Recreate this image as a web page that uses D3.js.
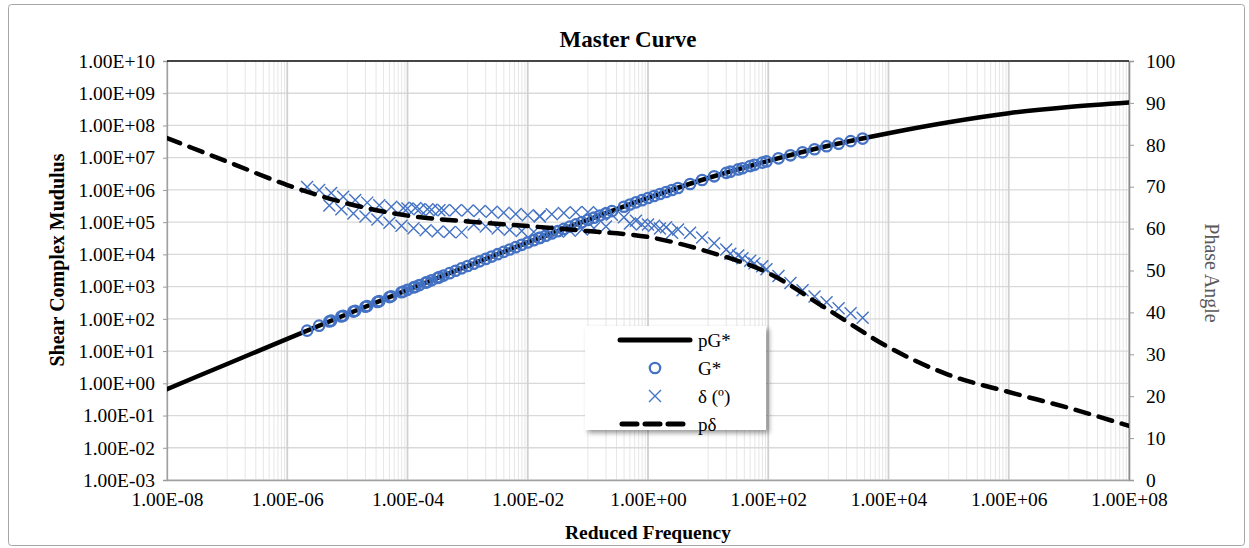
<!DOCTYPE html>
<html>
<head>
<meta charset="utf-8">
<script src="https://cdn.jsdelivr.net/npm/d3@7"></script>
<style>
  body { margin: 0; background: #ffffff; }
  svg { display: block; font-family: "Liberation Serif", "Times New Roman", serif; }
</style>
</head>
<body>
<svg id="chart" width="1249" height="548"></svg>
<script>
// ---- Master curve (fitted model), one point per decade of reduced frequency ----
const masterFreq  = [1e-8, 1e-7, 1e-6, 1e-5, 1e-4, 1e-3, 1e-2, 1e-1, 1e0, 1e1, 1e2, 1e3, 1e4, 1e5, 1e6, 1e7, 1e8];
const masterG     = [0.66, 3.98, 24.0, 141, 794, 4365, 23442, 117490, 562341, 2344229, 7943282,
                     23442288, 57543994, 125892541, 239883292, 371535229, 512861384];
const masterDelta = [81.6, 76.0, 70.4, 66.0, 63.1, 61.7, 60.6, 59.4, 58.0, 54.5, 49.4, 40.6, 31.7, 25.1, 21.0, 17.2, 12.9];

// ---- Measured data, shifted to the reference temperature (one row per test temperature) ----
const testFreq = [
  2.14e-6, 3.39e-6, 5.37e-6, 8.51e-6, 1.35e-5, 2.14e-5, 3.39e-5, 5.37e-5, 8.51e-5, 1.35e-4, 2.14e-4, 3.39e-4,
  5.01e-6, 7.94e-6, 1.26e-5, 2.00e-5, 3.16e-5, 5.01e-5, 7.94e-5, 1.26e-4, 2.00e-4, 3.16e-4, 5.01e-4, 7.94e-4,
  1.00e-4, 1.58e-4, 2.51e-4, 3.98e-4, 6.31e-4, 1.00e-3, 1.58e-3, 2.51e-3, 3.98e-3, 6.31e-3, 1.00e-2, 1.58e-2,
  1.26e-3, 2.00e-3, 3.16e-3, 5.01e-3, 7.94e-3, 1.26e-2, 2.00e-2, 3.16e-2, 5.01e-2, 7.94e-2, 0.126, 0.200,
  1.58e-2, 2.51e-2, 3.98e-2, 6.31e-2, 0.100, 0.158, 0.251, 0.398, 0.631, 1.00, 1.58, 2.51,
  0.501, 0.794, 1.26, 2.00, 3.16, 5.01, 7.94, 12.6, 20.0, 31.6, 50.1, 79.4,
  23.4, 37.2, 58.9, 93.3, 148, 234, 372, 589, 933, 1479, 2344, 3715
];
const testG = [
  43.1, 61.4, 87.5, 124.7, 177, 250, 353, 499, 705, 991, 1393, 1959,
  83.0, 118.3, 167.9, 237.1, 335, 473, 668, 942, 1324, 1862, 2618, 3681,
  794, 1117, 1570, 2208, 3105, 4365, 6109, 8551, 11967, 16749, 23442, 32359,
  5164, 7228, 10116, 14158, 19815, 27542, 38019, 52481, 72444, 100000, 137404, 187932,
  32359, 44668, 61660, 85114, 117490, 160694, 219786, 300608, 411150, 562341, 748169, 995405,
  351560, 480839, 648634, 862979, 1148154, 1527566, 2032357, 2648500, 3380687, 4315191, 5508077, 7030723,
  3681289, 4698941, 5997911, 7655966, 9549926, 11857687, 14723126, 18281002, 22698648, 27289778, 32658783, 39084089
];
const testDelta = [
  69.9, 69.2, 68.5, 67.6, 66.8, 66.2, 65.6, 65.2, 64.9, 64.9, 64.6, 64.4,
  65.5, 64.6, 63.6, 62.9, 62.2, 61.4, 60.7, 60.1, 59.6, 59.3, 59.2, 59.1,
  64.8, 64.6, 64.5, 64.4, 64.4, 64.3, 64.2, 64.0, 63.8, 63.5, 63.2, 62.9,
  61.0, 60.5, 60.0, 59.7, 59.4, 59.2, 59.2, 59.3, 59.5, 59.8, 60.1, 60.5,
  63.0, 63.4, 63.7, 63.9, 63.9, 63.7, 63.3, 62.7, 61.9, 61.0, 60.0, 59.0,
  61.2, 61.0, 60.7, 60.3, 59.8, 59.0, 57.9, 56.5, 55.0, 53.6, 52.3, 51.0,
  54.0, 52.9, 51.7, 50.3, 48.7, 47.0, 45.3, 43.8, 42.4, 41.0, 39.8, 38.7
];

// ---- Axis ticks and labels ----
const xTicks     = [1e-8, 1e-6, 1e-4, 1e-2, 1e0, 1e2, 1e4, 1e6, 1e8];
const gTicks     = [1e-3, 1e-2, 1e-1, 1e0, 1e1, 1e2, 1e3, 1e4, 1e5, 1e6, 1e7, 1e8, 1e9, 1e10];
const phaseTicks = [0, 10, 20, 30, 40, 50, 60, 70, 80, 90, 100];
const legendLabels = ["pG*", "G*", "δ (º)", "pδ"];

const blue = "#4472C4";
const svg = d3.select("#chart");

const plot = { left: 167, right: 1129, top: 61, bottom: 480 };
const x  = d3.scaleLog().domain([1e-8, 1e8]).range([plot.left, plot.right]);
const yG = d3.scaleLog().domain([1e-3, 1e10]).range([plot.bottom, plot.top]);
const yP = d3.scaleLinear().domain([0, 100]).range([plot.bottom, plot.top]);

// Excel-style scientific label, e.g. 1.00E-08
function sci(v) {
  const e = Math.round(Math.log10(v));
  const m = v / Math.pow(10, e);
  return m.toFixed(2) + "E" + (e < 0 ? "-" : "+") + String(Math.abs(e)).padStart(2, "0");
}

// outer chart frame
svg.append("rect")
  .attr("x", 8.5).attr("y", 4.5).attr("width", 1236).attr("height", 541)
  .attr("rx", 3).attr("fill", "#fff").attr("stroke", "#a6a6a6").attr("stroke-width", 1);

const defs = svg.append("defs");
defs.append("clipPath").attr("id", "plotClip")
  .append("rect").attr("x", plot.left).attr("y", plot.top)
  .attr("width", plot.right - plot.left).attr("height", plot.bottom - plot.top);
const shadow = defs.append("filter").attr("id", "legendShadow")
  .attr("x", "-10%").attr("y", "-10%").attr("width", "130%").attr("height", "140%");
shadow.append("feDropShadow").attr("dx", 3).attr("dy", 3).attr("stdDeviation", 2.5)
  .attr("flood-color", "#000").attr("flood-opacity", 0.4);

// ---- gridlines ----
const grid = svg.append("g");
// minor vertical gridlines: 1x..9x within the second decade of each labelled interval
const minorX = [];
xTicks.slice(0, -1).forEach(t => {
  for (let m = 1; m <= 9; m++) minorX.push(t * 10 * m);
});
grid.selectAll(".minorX").data(minorX).join("line")
  .attr("x1", d => x(d)).attr("x2", d => x(d))
  .attr("y1", plot.top).attr("y2", plot.bottom)
  .attr("stroke", "#e6e6e6").attr("stroke-width", 1);
grid.selectAll(".hGrid").data(gTicks).join("line")
  .attr("x1", plot.left).attr("x2", plot.right)
  .attr("y1", d => yG(d)).attr("y2", d => yG(d))
  .attr("stroke", "#d9d9d9").attr("stroke-width", 1.3);
grid.selectAll(".majorX").data(xTicks).join("line")
  .attr("x1", d => x(d)).attr("x2", d => x(d))
  .attr("y1", plot.top).attr("y2", plot.bottom)
  .attr("stroke", "#d0d0d0").attr("stroke-width", 1.8);

// ---- axes ----
const fontSize = "19.5px";
const axL = svg.append("g").attr("transform", `translate(${plot.left},0)`)
  .call(d3.axisLeft(yG).tickValues(gTicks).tickFormat(sci).tickSize(4).tickPadding(8));
const axR = svg.append("g").attr("transform", `translate(${plot.right},0)`)
  .call(d3.axisRight(yP).tickValues(phaseTicks).tickSize(5).tickPadding(12));
const axB = svg.append("g").attr("transform", `translate(0,${plot.bottom})`)
  .call(d3.axisBottom(x).tickValues(xTicks).tickFormat(sci).tickSize(0).tickPadding(12));
[axL, axR, axB].forEach(a => {
  a.selectAll("text").attr("font-size", fontSize).attr("fill", "#000")
    .attr("font-family", "'Liberation Serif', 'Times New Roman', serif");
  a.selectAll(".tick line").attr("stroke", "#9a9a9a");
  a.select(".domain").attr("stroke", "#a0a0a0").attr("stroke-width", 1.3);
});
axR.select(".domain").attr("stroke", "#8c8c8c").attr("stroke-width", 1.6);
// top border line
svg.append("line").attr("x1", plot.left).attr("x2", plot.right)
  .attr("y1", plot.top).attr("y2", plot.top)
  .attr("stroke", "#111").attr("stroke-width", 1.5);

// ---- series ----
const series = svg.append("g").attr("clip-path", "url(#plotClip)");
const masterPts = masterFreq.map((f, i) => ({ f, g: masterG[i], d: masterDelta[i] }));
const testPts = testFreq.map((f, i) => ({ f, g: testG[i], d: testDelta[i] }));

// pG* master curve
series.append("path").datum(masterPts)
  .attr("fill", "none").attr("stroke", "#000").attr("stroke-width", 4.5)
  .attr("stroke-linecap", "round")
  .attr("d", d3.line().x(p => x(p.f)).y(p => yG(p.g)).curve(d3.curveMonotoneX));

// G* measured
series.append("g").selectAll("circle").data(testPts).join("circle")
  .attr("cx", p => x(p.f)).attr("cy", p => yG(p.g)).attr("r", 5.2)
  .attr("fill", "none").attr("stroke", blue).attr("stroke-width", 2.3);

// δ measured
const crossPath = "M-6,-6L6,6M-6,6L6,-6";
series.append("g").selectAll("path").data(testPts).join("path")
  .attr("transform", p => `translate(${x(p.f)},${yP(p.d)})`)
  .attr("d", crossPath).attr("fill", "none")
  .attr("stroke", blue).attr("stroke-width", 1.4);

// pδ master curve
series.append("path").datum(masterPts)
  .attr("fill", "none").attr("stroke", "#000").attr("stroke-width", 4.5)
  .attr("stroke-dasharray", "14,10").attr("stroke-linecap", "round")
  .attr("d", d3.line().x(p => x(p.f)).y(p => yP(p.d)).curve(d3.curveMonotoneX));

// ---- titles ----
svg.append("text").attr("x", 628).attr("y", 47).attr("text-anchor", "middle")
  .attr("font-size", "23px").attr("font-weight", "bold").text("Master Curve");
svg.append("text").attr("x", 648).attr("y", 539).attr("text-anchor", "middle")
  .attr("font-size", "19.5px").attr("font-weight", "bold").text("Reduced Frequency");
svg.append("text").attr("transform", "translate(64,260) rotate(-90)").attr("text-anchor", "middle")
  .attr("font-size", "20px").attr("font-weight", "bold").text("Shear Complex Mudulus");
svg.append("text").attr("transform", "translate(1205,273) rotate(90)").attr("text-anchor", "middle")
  .attr("font-size", "20px").attr("fill", "#595959").text("Phase Angle");

// ---- legend ----
const lg = svg.append("g");
lg.append("rect").attr("x", 585).attr("y", 326).attr("width", 181).attr("height", 104)
  .attr("fill", "#fff").attr("filter", "url(#legendShadow)");
const rowY = [340, 368, 396, 424];
const lx1 = 620, lx2 = 690, lcx = 655, ltx = 698;
lg.append("line").attr("x1", lx1).attr("x2", lx2).attr("y1", rowY[0]).attr("y2", rowY[0])
  .attr("stroke", "#000").attr("stroke-width", 5).attr("stroke-linecap", "round");
lg.append("circle").attr("cx", lcx).attr("cy", rowY[1]).attr("r", 5.2)
  .attr("fill", "none").attr("stroke", blue).attr("stroke-width", 2.3);
lg.append("path").attr("transform", `translate(${lcx},${rowY[2]})`).attr("d", crossPath)
  .attr("stroke", blue).attr("stroke-width", 1.4).attr("fill", "none");
lg.append("line").attr("x1", lx1 + 2).attr("x2", lx2).attr("y1", rowY[3]).attr("y2", rowY[3])
  .attr("stroke", "#000").attr("stroke-width", 5).attr("stroke-dasharray", "15,8")
  .attr("stroke-linecap", "round");
lg.selectAll("text.lbl").data(legendLabels).join("text")
  .attr("x", ltx).attr("y", (d, i) => rowY[i]).attr("dy", "0.35em")
  .attr("font-size", "19px").text(d => d);
</script>
</body>
</html>
